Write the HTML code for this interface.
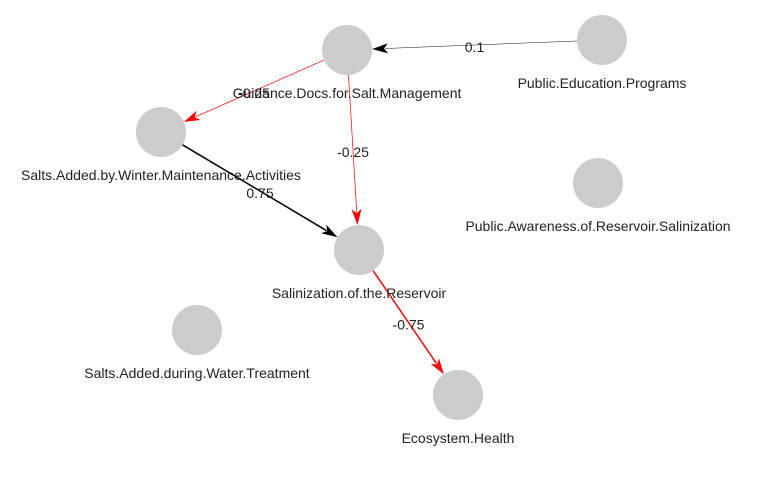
<!DOCTYPE html>
<html><head><meta charset="utf-8"><style>
html,body{margin:0;padding:0;background:#fff;}
svg{display:block;font-family:"Liberation Sans",Arial,sans-serif;}
</style></head><body>
<svg id="chart" width="764" height="485" viewBox="0 0 764 485"></svg>
<script>
const nodeNames=["Guidance.Docs.for.Salt.Management","Public.Education.Programs","Salts.Added.by.Winter.Maintenance.Activities","Public.Awareness.of.Reservoir.Salinization","Salinization.of.the.Reservoir","Salts.Added.during.Water.Treatment","Ecosystem.Health"];
const nodeLayoutX=[347,602,161,598,359,197,458];
const nodeLayoutY=[50,40,132,183,250,330,395];
const edgeFrom=[1,0,0,2,4];
const edgeTo=[0,2,4,4,6];
const edgeWeights=[0.1,-0.25,-0.25,0.75,-0.75];
const edgeLabels=["0.1","-0.25","-0.25","0.75","-0.75"];
const NS="http://www.w3.org/2000/svg";
const svg=document.getElementById('chart');
const R=25;
function mk(t,a){const e=document.createElementNS(NS,t);for(const k in a)e.setAttribute(k,a[k]);return e;}
const gE=mk('g',{});svg.appendChild(gE);
const gN=mk('g',{});svg.appendChild(gN);
const gL=mk('g',{});svg.appendChild(gL);
edgeFrom.forEach((f,i)=>{
  const t=edgeTo[i],w=edgeWeights[i];
  const x1=nodeLayoutX[f],y1=nodeLayoutY[f],x2=nodeLayoutX[t],y2=nodeLayoutY[t];
  const dx=x2-x1,dy=y2-y1,L=Math.hypot(dx,dy),ux=dx/L,uy=dy/L;
  const col=w<0?'#ff0000':'#000000';
  const sw=0.3+Math.abs(w)*1.6;
  const ex=x2-ux*R,ey=y2-uy*R;
  const ah=16,aw=5;
  const bx=ex-ux*ah,by=ey-uy*ah;
  const line=mk('line',{x1:x1+ux*R,y1:y1+uy*R,x2:bx+ux*3,y2:by+uy*3,stroke:col,'stroke-width':sw});
  
  
  gE.appendChild(line);
  const head=mk('polygon',{points:`${ex},${ey} ${bx-uy*aw},${by+ux*aw} ${bx+ux*4},${by+uy*4} ${bx+uy*aw},${by-ux*aw}`,fill:col});
  
  
  gE.appendChild(head);
  const lt=mk('text',{x:(x1+x2)/2,y:(y1+y2)/2+7,'text-anchor':'middle','font-size':14,fill:'#222'});
  lt.textContent=edgeLabels[i];
  
  
  gL.appendChild(lt);
});
nodeNames.forEach((n,i)=>{
  const c=mk('circle',{cx:nodeLayoutX[i],cy:nodeLayoutY[i],r:R,fill:'#cccccc'});
  
  
  gN.appendChild(c);
  const t=mk('text',{x:nodeLayoutX[i],y:nodeLayoutY[i]+48,'text-anchor':'middle','font-size':14,fill:'#222'});
  t.textContent=n;
  
  
  gL.appendChild(t);
});
</script>
</body></html>
